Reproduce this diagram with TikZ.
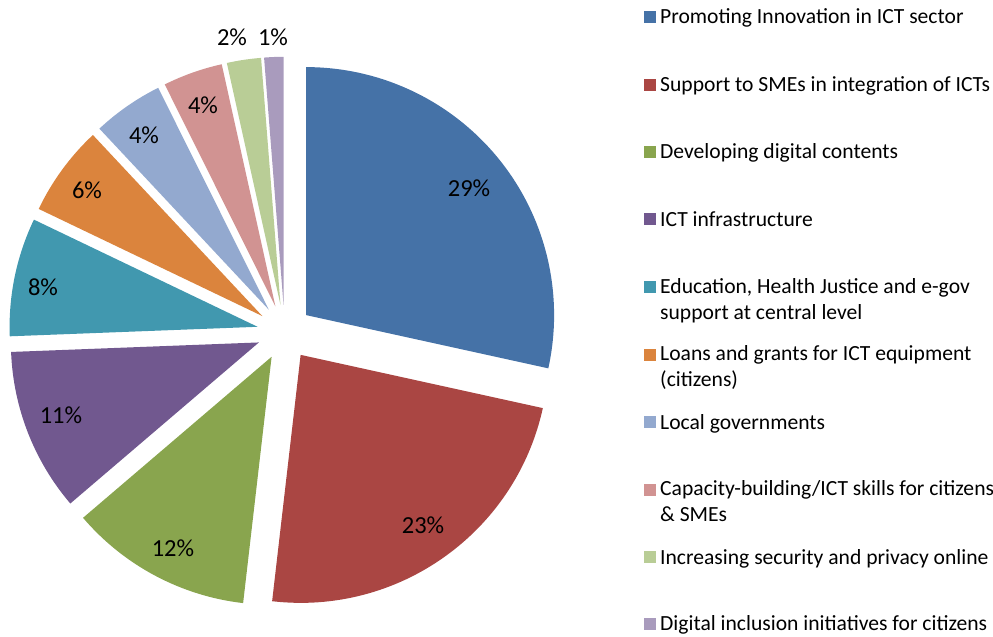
\documentclass[tikz,border=0pt]{standalone}
\usepackage{fontspec}
\setmainfont{Carlito}
\usetikzlibrary{calc}
\definecolor{cBlue}{HTML}{4572A7}
\definecolor{cRed}{HTML}{AA4643}
\definecolor{cGreen}{HTML}{89A54E}
\definecolor{cPurple}{HTML}{71588F}
\definecolor{cTeal}{HTML}{4198AF}
\definecolor{cOrange}{HTML}{DB843D}
\definecolor{cLBlue}{HTML}{93A9CF}
\definecolor{cPink}{HTML}{D19392}
\definecolor{cLGreen}{HTML}{B9CD96}
\definecolor{cLav}{HTML}{A99BBD}
\newcommand{\myslice}[4]{%
  \pgfmathsetmacro\tA{90-#2}%
  \pgfmathsetmacro\tB{90-#3}%
  \pgfmathsetmacro\tM{90-(#2+#3)/2}%
  \coordinate (#4) at ($(C)+(\tM:27.6)$);
  \fill[#1] (#4) -- ++(\tA:248) arc[start angle=\tA, end angle=\tB, radius=248] -- cycle;
}
\tikzset{
  pct/.style={font=\fontsize{24.5}{28}\selectfont, inner sep=0pt},
  legtext/.style={font=\fontsize{21.6}{26}\selectfont, anchor=west, inner sep=0pt, align=left},
  legbox/.style={minimum size=12, inner sep=0pt, outer sep=0pt}
}
\begin{document}
\begin{tikzpicture}[x=1pt,y=1pt]
\useasboundingbox (0,0) rectangle (993,637);
\coordinate (C) at (284.6,304.6);
\myslice{cBlue}{0}{102.4}{s1}
\myslice{cRed}{102.4}{186.6}{s2}
\myslice{cGreen}{186.6}{229.5}{s3}
\myslice{cPurple}{229.5}{267.8}{s4}
\myslice{cTeal}{267.8}{295.6}{s5}
\myslice{cOrange}{295.6}{316.9}{s6}
\myslice{cLBlue}{316.9}{333.5}{s7}
\myslice{cPink}{333.5}{347.5}{s8}
\myslice{cLGreen}{347.5}{355.5}{s9}
\myslice{cLav}{355.5}{360}{s10}
% percentage labels
\node[pct] (p1) at (469,449) {29\%};
\node[pct] (p2) at (423,112) {23\%};
\node[pct] (p3) at (173,89) {12\%};
\node[pct] (p4) at (61,222) {11\%};
\node[pct] (p5) at (43,350) {8\%};
\node[pct] (p6) at (87,447) {6\%};
\node[pct] (p7) at (144,502) {4\%};
\node[pct] (p8) at (203,532) {4\%};
\node[pct] (p9) at (232,600) {2\%};
\node[pct] (p10) at (273,600) {1\%};
% legend
\node[legbox, fill=cBlue]   (k1) at (650,620) {};
\node[legbox, fill=cRed]    (k2) at (650,552) {};
\node[legbox, fill=cGreen]  (k3) at (650,485) {};
\node[legbox, fill=cPurple] (k4) at (650,418) {};
\node[legbox, fill=cTeal]   (k5) at (650,350) {};
\node[legbox, fill=cOrange] (k6) at (650,282) {};
\node[legbox, fill=cLBlue]  (k7) at (650,215) {};
\node[legbox, fill=cPink]   (k8) at (650,147) {};
\node[legbox, fill=cLGreen] (k9) at (650,80) {};
\node[legbox, fill=cLav]    (k10) at (650,13) {};
\node[legtext] (t1) at (660,619.5) {Promoting Innovation in ICT sector};
\node[legtext] (t2) at (660,551.5) {Support to SMEs in integration of ICTs};
\node[legtext] (t3) at (660,484.5) {Developing digital contents};
\node[legtext] (t4) at (660,417.5) {ICT infrastructure};
\node[legtext, anchor=north west] (t5) at (660,359) {Education, Health Justice and e-gov\\support at central level};
\node[legtext, anchor=north west] (t6) at (660,291.5) {Loans and grants for ICT equipment\\(citizens)};
\node[legtext] (t7) at (660,213.5) {Local governments};
\node[legtext, anchor=north west] (t8) at (660,156.5) {Capacity-building/ICT skills for citizens\\\& SMEs};
\node[legtext] (t9) at (660,78.5) {Increasing security and privacy online};
\node[legtext] (t10) at (660,12.5) {Digital inclusion initiatives for citizens};
\end{tikzpicture}
\end{document}
